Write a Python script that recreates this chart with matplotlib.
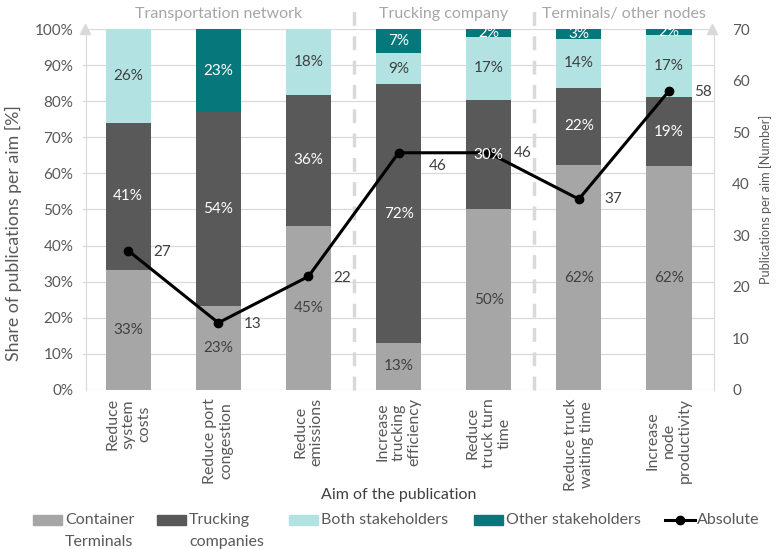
import numpy as np
import matplotlib
matplotlib.use("Agg")
from matplotlib import pyplot as plt
from matplotlib.patches import Rectangle
from matplotlib.lines import Line2D

plt.rcParams['font.family'] = ['Lato', 'DejaVu Sans']

aims = ["Reduce\nsystem\ncosts", "Reduce port\ncongestion", "Reduce\nemissions",
        "Increase\ntrucking\nefficiency", "Reduce\ntruck turn\ntime",
        "Reduce truck\nwaiting time", "Increase\nnode\nproductivity"]
container_terminals = [33.3, 23.1, 45.4, 13.0, 50.0, 62.2, 62.1]
trucking_companies = [40.7, 53.8, 36.4, 71.7, 30.4, 21.6, 19.0]
both_stakeholders = [25.9, 0.0, 18.2, 8.7, 17.4, 13.5, 17.2]
other_stakeholders = [0.0, 23.1, 0.0, 6.6, 2.2, 2.7, 1.7]
absolute = [27, 13, 22, 46, 46, 37, 58]
groups = ["Transportation network", "Trucking company", "Terminals/ other nodes"]
group_pos = [1, 3.5, 5.5]
separators = [2.5, 4.5]

txt = "#595959"
dark = "#404040"
grid = "#d9d9d9"
fs = 11
W, H = 777, 549

fig = plt.figure(figsize=(W / 100, H / 100), dpi=100)
ax = fig.add_axes([0.107, 0.290, 0.812, 0.657])
ax2 = ax.twinx()
x = np.arange(len(aims))

series = [
    ("Container\nTerminals", container_terminals, "#a6a6a6", dark),
    ("Trucking\ncompanies", trucking_companies, "#595959", "white"),
    ("Both stakeholders", both_stakeholders, "#b3e2e3", dark),
    ("Other stakeholders", other_stakeholders, "#06787c", "white"),
]
bottom = np.zeros(len(aims))
for name, vals, col, lc in series:
    vals = np.array(vals)
    ax.bar(x, vals, 0.5, bottom=bottom, color=col, zorder=2)
    for xi, v, b0 in zip(x, vals, bottom):
        if v > 0:
            # labels go on the top axes so they sit above the line
            ax2.text(xi, b0 + v / 2, "%d%%" % int(v + 0.5), ha="center", va="center",
                     color=lc, fontsize=fs, zorder=6, transform=ax.transData)
    bottom += vals

ax.set_xlim(-0.5, 6.5)
ax.set_ylim(0, 100)
ax.set_yticks(np.arange(0, 101, 10))
ax.set_yticklabels(["%d%%" % v for v in range(0, 101, 10)])
ax.yaxis.grid(True, color=grid, lw=0.9, zorder=0)
ax.set_axisbelow(True)
ax.set_xticks(x)
ax.set_xticklabels(aims, rotation=90, va="top", ha="center", multialignment="center")
ax.tick_params(axis="y", length=0, colors=txt, labelsize=fs, pad=9)
ax.tick_params(axis="x", length=0, colors=txt, labelsize=11.5, pad=6)
for s in ["top", "right", "bottom"]:
    ax.spines[s].set_visible(False)
ax.spines["left"].set_color(grid)
ax.spines["left"].set_position(("outward", -2))
ax.plot([0.003], [1.0], marker="^", color=grid, ms=7, transform=ax.transAxes, clip_on=False)
ax.set_ylabel("Share of publications per aim [%]", color=txt, fontsize=12.8)
ax.yaxis.set_label_coords(-0.097, 0.435)
ax.set_xlabel("Aim of the publication", color=dark, fontsize=11.5, va="center")
ax.xaxis.set_label_coords(0.5, -0.291)

for sx in separators:
    ax.plot([sx, sx], [0, 105], ls=(0, (4, 3)), color=grid, lw=2.5, clip_on=False, zorder=1)
for g, gx in zip(groups, group_pos):
    ax.text(gx, 104.2, g, ha="center", va="center", color="#a6a6a6", fontsize=11.5)

ax2.set_ylim(0, 70)
ax2.set_yticks(np.arange(0, 71, 10))
ax2.tick_params(axis="y", length=0, colors=txt, labelsize=fs, pad=13)
for s in ["top", "left", "bottom"]:
    ax2.spines[s].set_visible(False)
ax2.spines["right"].set_color(grid)
ax2.plot([0.997], [1.0], marker="^", color=grid, ms=7, transform=ax2.transAxes, clip_on=False)
ax2.plot(x, absolute, color="black", lw=2.2, marker="o", ms=6, zorder=4)
offsets = [(18, -1), (18, -1), (18, -1), (22, -9.5), (18, 0), (18, 0), (18, -1)]
for xi, v, off in zip(x, absolute, offsets):
    ax2.annotate(str(v), (xi, v), xytext=off, textcoords="offset points",
                 ha="left", va="center", color=dark, fontsize=fs, zorder=6)
ax2.set_ylabel("Publications per aim [Number]", color=txt, fontsize=9.2)
ax2.yaxis.set_label_coords(1.071, 0.527)

# legend laid out by hand so two-line labels hang below the key like the original
leg_x = [33, 157, 289, 474]
leg_y = 520
for (name, vals, col, lc), lx in zip(series, leg_x):
    fig.add_artist(Rectangle((lx / W, 1 - (leg_y + 5) / H), 29 / W, 10 / H,
                             color=col, transform=fig.transFigure))
    for k, part in enumerate(name.split("\n")):
        fig.text((lx + 32) / W, 1 - (leg_y + 22 * k) / H, part, ha="left", va="center",
                 color=txt, fontsize=11.5)
fig.add_artist(Line2D([665 / W, 695 / W], [1 - leg_y / H] * 2, color="black", lw=2.2,
                      transform=fig.transFigure))
fig.add_artist(Line2D([680 / W], [1 - leg_y / H], color="black", marker="o", ms=6,
                      transform=fig.transFigure))
fig.text(697 / W, 1 - leg_y / H, "Absolute", ha="left", va="center", color=txt, fontsize=11.5)

fig.savefig("out.png", dpi=100)
